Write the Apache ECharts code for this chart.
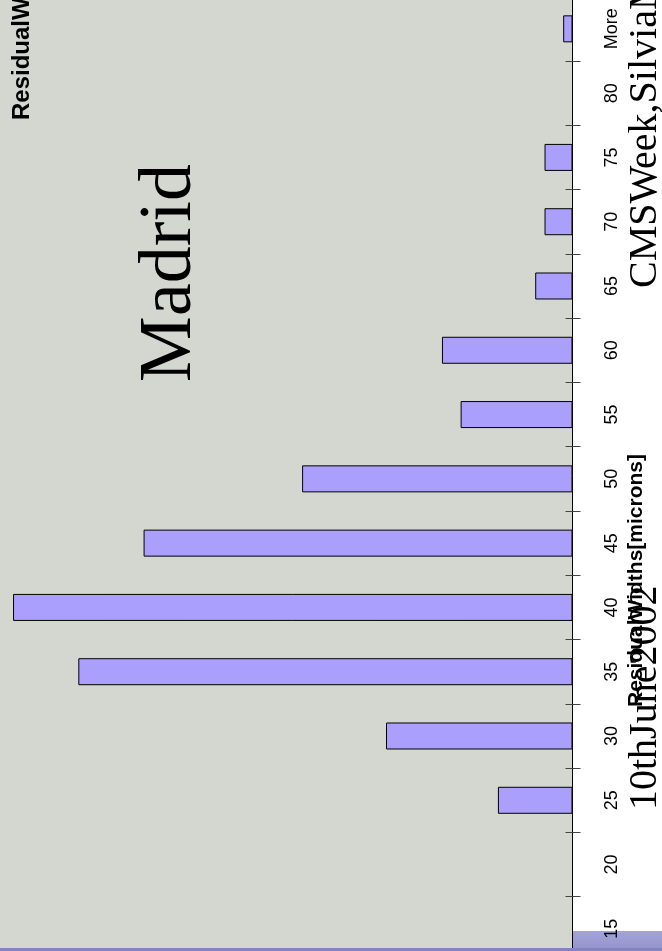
<!DOCTYPE html>
<html>
<head>
<meta charset="utf-8">
<style>
  html, body { margin: 0; padding: 0; background: #ffffff; }
  #chart { width: 662px; height: 951px; }
</style>
<script src="https://cdn.jsdelivr.net/npm/echarts@6/dist/echarts.min.js"></script>
</head>
<body>
<div id="chart"></div>
<script>
// Histogram bins (microns) and counts per bin
const bins = ['15', '20', '25', '30', '35', '40', '45', '50', '55', '60', '65', '70', '75', '80', 'More'];
const counts = [0, 0, 8, 20, 53, 60, 46, 29, 12, 14, 4, 3, 3, 0, 1];

const titleText = 'ResidualWidthsDistribution';
const placeText = 'Madrid';
const axisTitleText = 'ResidualWidths[microns]';
const dateText = '10thJune2002';
const eventText = 'CMSWeek,SilviaMartí-García';

const chart = echarts.init(document.getElementById('chart'), null, { renderer: 'canvas' });
const R90 = Math.PI / 2;
const serif = '"Liberation Serif", "Times New Roman", serif';
const sans = '"Liberation Sans", Arial, sans-serif';

chart.setOption({
  animation: false,
  backgroundColor: '#ffffff',
  grid: {
    left: 0, right: 89.5, top: -3.3, bottom: -10,
    show: true, backgroundColor: '#d4d6d0', borderWidth: 0,
    containLabel: false, outerBoundsMode: 'none'
  },
  xAxis: {
    type: 'value', inverse: true, min: 0, max: 61.4, show: false
  },
  yAxis: [
    {
      type: 'category', data: bins, position: 'right',
      axisLine: { show: true, lineStyle: { color: '#000', width: 1 } },
      axisTick: { show: true, length: 8, inside: false, lineStyle: { color: '#444', width: 1 } },
      axisLabel: {
        rotate: 90, margin: 31, color: '#000',
        fontFamily: sans, fontSize: 18
      },
      splitLine: { show: false }
    },
    {
      type: 'category', data: bins, position: 'right',
      axisLine: { show: false },
      axisTick: { show: true, length: 7, inside: true, lineStyle: { color: '#444', width: 1 } },
      axisLabel: { show: false },
      splitLine: { show: false }
    }
  ],
  series: [{
    type: 'bar', data: counts, barWidth: 27, yAxisIndex: 0,
    itemStyle: { color: '#ab9ffd', borderColor: '#000', borderWidth: 1 },
    z: 2
  }],
  graphic: [
    // footer band
    { type: 'rect', z: -1, shape: { x: 573, y: 931, width: 89, height: 20 },
      style: { fill: new echarts.graphic.LinearGradient(0, 0, 0, 1, [
        { offset: 0, color: '#a3a3da' }, { offset: 1, color: '#9494cc' }]) } },
    { type: 'rect', z: 100, shape: { x: 0, y: 948, width: 662, height: 3 },
      style: { fill: '#8584c0' } },
    { type: 'text', z: 50, x: 22, y: 120, rotation: R90,
      style: { text: titleText, font: 'bold 24px ' + sans, fill: '#000',
        textAlign: 'left', textVerticalAlign: 'middle' } },
    { type: 'text', z: 50, x: 171, y: 273, rotation: R90,
      style: { text: placeText, font: '74px ' + serif, fill: '#000',
        textAlign: 'center', textVerticalAlign: 'middle' } },
    { type: 'text', z: 50, x: 645, y: 288, rotation: R90,
      style: { text: eventText, font: '40px ' + serif, fill: '#000',
        textAlign: 'left', textVerticalAlign: 'middle' } },
    { type: 'text', z: 50, x: 645, y: 810, rotation: R90,
      style: { text: dateText, font: '40px ' + serif, fill: '#000',
        textAlign: 'left', textVerticalAlign: 'middle' } },
    { type: 'text', z: 51, x: 636, y: 707, rotation: R90,
      style: { text: axisTitleText, font: 'bold 21px ' + sans, fill: '#000',
        textAlign: 'left', textVerticalAlign: 'middle' } }
  ]
});
</script>
</body>
</html>
